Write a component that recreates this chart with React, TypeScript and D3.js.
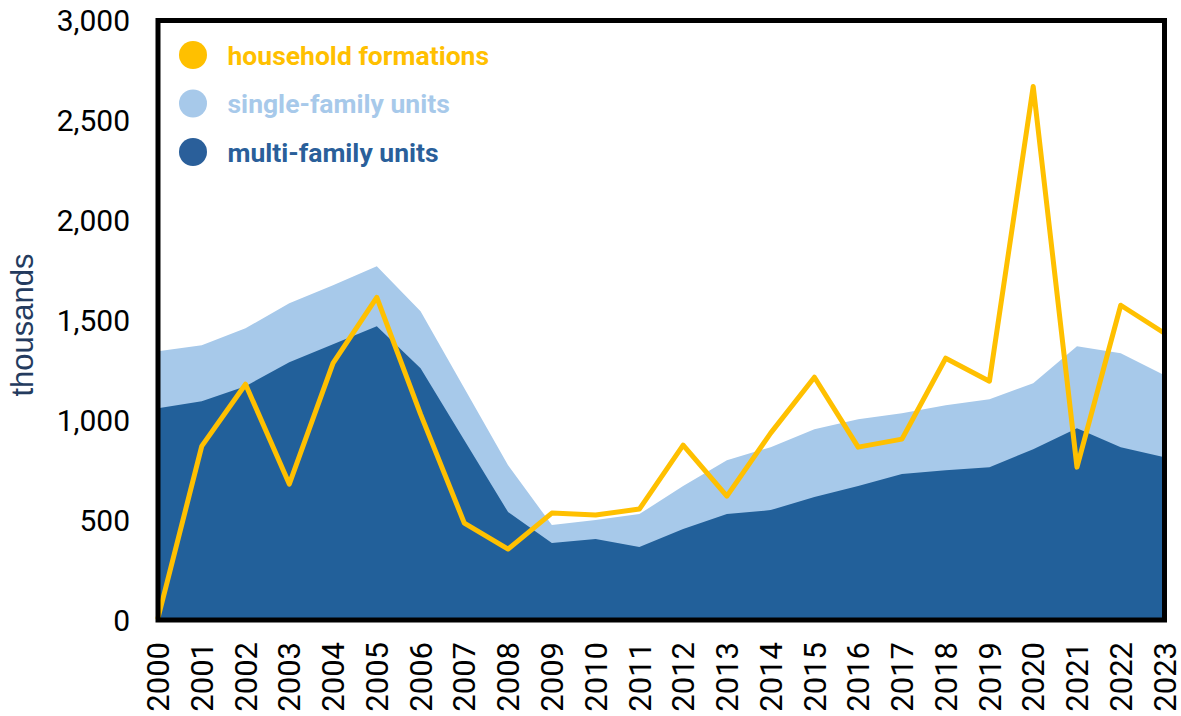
import React from "react";
import * as d3 from "d3";

const years = d3.range(2000, 2024);
const multiFamily = [1060, 1095, 1170, 1290, 1380, 1470, 1260, 900, 540, 385, 405, 365, 455, 530, 550, 615, 670, 730, 750, 765, 855, 960, 865, 815];
const totalUnits = [1345, 1375, 1460, 1585, 1675, 1770, 1545, 1160, 775, 475, 500, 530, 670, 800, 865, 955, 1005, 1035, 1075, 1105, 1185, 1370, 1335, 1225];
const householdFormations = [10, 870, 1180, 680, 1285, 1615, 1030, 485, 355, 535, 525, 555, 875, 620, 935, 1215, 865, 905, 1310, 1195, 2670, 765, 1575, 1435];
const yTicks = [0, 500, 1000, 1500, 2000, 2500, 3000];
const legendItems = [
  { label: "household formations", color: "#FFC000" },
  { label: "single-family units", color: "#A7C9EA" },
  { label: "multi-family units", color: "#2A5F9A" },
];

export default function App() {
  const W = 1181, H = 716;
  const left = 158, right = 1164.5, top = 20.5, bottom = 620;
  const x = d3.scaleLinear().domain([2000, 2023]).range([left, right]);
  const y = d3.scaleLinear().domain([0, 3000]).range([bottom, top]);

  const totalArea = d3.area<number>().x((_, i) => x(years[i])).y0(y(0)).y1((d) => y(d));
  const line = d3.line<number>().x((_, i) => x(years[i])).y((d) => y(d));

  return (
    <svg width={W} height={H} style={{ position: "absolute", left: 0, top: 0, background: "#fff" }}>
      <path d={totalArea(totalUnits) || ""} fill="#A7C9EA" />
      <path d={totalArea(multiFamily) || ""} fill="#22609A" />
      <path d={line(householdFormations) || ""} fill="none" stroke="#FFC000" strokeWidth={5} strokeLinejoin="round" strokeLinecap="round" />
      <rect x={left} y={top} width={right - left} height={bottom - top} fill="none" stroke="#000" strokeWidth={5} />
      {yTicks.map((t) => (
        <text key={t} x={130} y={y(t)} dy="0.36em" textAnchor="end" fontFamily="Roboto" fontSize={30} fill="#000">
          {d3.format(",")(t)}
        </text>
      ))}
      {years.map((yr) => (
        <text key={yr} transform={`translate(${x(yr)},642) rotate(-90)`} dy="0.36em" textAnchor="end" fontFamily="Roboto" fontSize={31} fill="#000">
          {yr}
        </text>
      ))}
      <text transform="translate(22,325) rotate(-90)" dy="0.36em" textAnchor="middle" fontFamily="Liberation Sans, Arial, sans-serif" fontSize={31} fill="#243B5E">
        thousands
      </text>
      {legendItems.map((it, i) => (
        <g key={it.label} transform={`translate(193,${55 + i * 48.5})`}>
          <circle r={14} fill={it.color} />
          <text x={34.5} dy="0.36em" fontFamily="Roboto" fontWeight="bold" fontSize={26.5} fill={it.color}>
            {it.label}
          </text>
        </g>
      ))}
    </svg>
  );
}
